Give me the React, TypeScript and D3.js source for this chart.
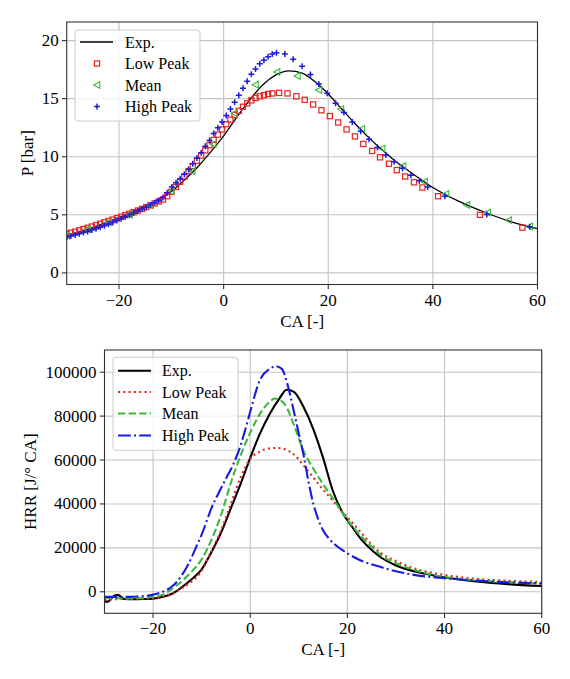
import React from 'react';
import * as d3 from 'd3';

// ---------- pressure trace (top) ----------
const pExpCA = [-30, -25, -20, -15, -10, -7.5, -5, -2.5, 0, 2.5, 5, 7.5, 10, 12.5, 15, 17.5, 20, 22.5, 25, 27.5, 30, 32.5, 35, 37.5, 40, 45, 50, 55, 60];
const pExp = [3.15, 3.9, 4.75, 5.75, 7.0, 8.0, 9.1, 10.4, 11.8, 13.4, 14.9, 16.2, 17.05, 17.4, 17.2, 16.45, 15.4, 14.15, 12.9, 11.75, 10.7, 9.75, 8.9, 8.1, 7.35, 6.15, 5.2, 4.4, 3.8];

const pLowCA = [-30.0, -29.2, -28.4, -27.6, -26.8, -26.0, -25.2, -24.4, -23.6, -22.8, -22.0, -21.2, -20.4, -19.6, -18.8, -18.0, -17.2, -16.4, -15.6, -14.8, -14.0, -13.2, -12.4, -11.6, -10.8, -10.0,
  -9.1, -8.3, -7.5, -6.7, -5.9, -5.1, -4.3, -3.5, -2.7, -1.9, -1.1, -0.3, 0.5, 1.3, 2.1, 2.9, 3.7, 4.5, 5.3, 6.1, 6.9, 7.7, 8.5, 9.3,
  10.6, 12.2, 13.9, 15.5, 17.1, 18.7, 20.3, 21.9, 23.5, 25.1, 26.7, 28.4, 29.9, 31.6, 33.1, 34.7, 36.4, 38.0, 41.0, 49.0, 57.1];
const pLow = [3.35, 3.45, 3.55, 3.66, 3.77, 3.88, 3.99, 4.11, 4.23, 4.35, 4.47, 4.59, 4.71, 4.84, 4.97, 5.1, 5.23, 5.37, 5.51, 5.66, 5.82, 5.98, 6.15, 6.32, 6.6, 6.98,
  7.4, 7.85, 8.3, 8.77, 9.2, 9.65, 10.1, 10.55, 11.0, 11.45, 11.9, 12.35, 12.8, 13.2, 13.6, 13.95, 14.3, 14.6, 14.85, 15.05, 15.2, 15.3, 15.4, 15.45,
  15.5, 15.45, 15.2, 14.9, 14.5, 14.0, 13.5, 12.95, 12.35, 11.75, 11.1, 10.5, 9.95, 9.4, 8.85, 8.3, 7.8, 7.35, 6.6, 5.0, 3.9];

const pMeanCA = [-30, -26, -22, -18, -14, -10, -6, -2, 2.1, 6.1, 10.2, 14.1, 18.2, 22.4, 26.4, 30.3, 34.3, 38.4, 42.5, 46.5, 50.5, 54.5, 58.5];
const pMean = [3.2, 3.75, 4.35, 5.0, 5.85, 7.0, 8.75, 11.1, 13.75, 16.2, 17.3, 16.95, 15.75, 14.1, 12.4, 10.7, 9.2, 7.85, 6.8, 5.84, 5.2, 4.54, 4.0];

const pHighCA = [-30.0, -29.2, -28.4, -27.6, -26.8, -26.0, -25.2, -24.4, -23.6, -22.8, -22.0, -21.2, -20.4, -19.6, -18.8, -18.0, -17.2, -16.4, -15.6, -14.8, -14.0, -13.2, -12.4, -11.6, -10.8,
  -9.9, -9.1, -8.3, -7.5, -6.7, -5.9, -5.1, -4.3, -3.5, -2.7, -1.9, -1.1, -0.3, 0.5, 1.3, 2.1, 2.9, 3.7, 4.5, 5.3, 6.1, 6.9, 7.7, 8.5, 9.3, 10.1,
  11.7, 13.3, 15.0, 16.6, 18.2, 19.8, 21.4, 23.0, 24.6, 26.2, 27.8, 29.4, 31.0, 32.6, 34.2, 35.8, 37.4, 39.0, 42.3, 50.3, 58.5];
const pHigh = [3.08, 3.17, 3.27, 3.37, 3.47, 3.57, 3.69, 3.81, 3.93, 4.05, 4.19, 4.34, 4.5, 4.66, 4.83, 5.0, 5.16, 5.32, 5.49, 5.66, 5.84, 6.03, 6.23, 6.5, 6.9,
  7.4, 7.75, 8.1, 8.5, 8.9, 9.4, 9.9, 10.35, 10.9, 11.4, 12.0, 12.5, 13.0, 13.55, 14.1, 14.7, 15.3, 15.9, 16.5, 17.1, 17.56, 18.0, 18.3, 18.6, 18.85, 18.95,
  18.85, 18.4, 17.8, 17.07, 16.27, 15.46, 14.6, 13.8, 13.0, 12.2, 11.5, 10.8, 10.15, 9.57, 9.0, 8.4, 7.93, 7.4, 6.6, 5.03, 3.97];

// ---------- heat release rate (bottom) ----------
const hExpCA = [-30, -29.3, -28.8, -28, -27.3, -26.7, -26, -24, -22, -20, -18, -16, -14, -12, -10, -8, -6, -4, -2, 0, 2, 4, 6, 7.5, 9, 11, 13, 15, 17, 19, 21, 23, 25, 27, 30, 34, 38, 42, 47, 53, 60];
const hExp = [-4500, -4500, -3500, -1800, -1400, -2200, -3300, -3400, -3300, -3100, -2300, -800, 2200, 5800, 10200, 18000, 27000, 38000, 49000, 61000, 72000, 81000, 88000, 92000, 91000, 84000, 74000, 61000, 46000, 36000, 29500, 23500, 19000, 15500, 12000, 9200, 7300, 5900, 4600, 3500, 2600];

const hLowCA = [-30, -26, -22, -20, -18, -16, -14, -12, -10, -8, -6, -4, -2, 0, 2, 4, 5.5, 7, 9, 11, 13, 15, 17, 19, 21, 23, 25, 27, 30, 34, 38, 42, 47, 53, 60];
const hLow = [-3800, -3200, -3100, -3000, -2300, -900, 1800, 4800, 9500, 18500, 28000, 40000, 52000, 60500, 63800, 65300, 65500, 65000, 62500, 57500, 52000, 46500, 41500, 36500, 31500, 26500, 21500, 17500, 14000, 10500, 8400, 7000, 5800, 5000, 4500];

const hMeanCA = [-30, -25, -22, -20, -18, -16, -14, -12, -10, -8, -6, -4, -2, 0, 2, 4, 5, 6, 7.5, 9, 11, 13, 15, 17, 19, 21, 23, 25, 27, 30, 34, 38, 42, 47, 53, 60];
const hMean = [-2800, -3000, -2800, -2300, -1300, 1500, 5000, 9300, 14800, 23500, 35000, 49500, 62000, 72500, 81000, 86500, 88000, 87500, 84000, 76000, 64000, 56000, 49000, 42500, 36000, 30000, 24800, 20500, 16500, 13000, 9800, 7500, 6200, 5200, 4400, 3800];

const hHighCA = [-30, -25, -22, -20, -18, -16, -15, -14, -13, -12, -11, -10, -9, -8, -6.5, -5, -3.5, -2, -1, 0, 2, 4, 5.2, 6.5, 7.6, 9, 10, 11, 12, 13, 14, 15, 16.5, 18, 20, 23, 26, 29, 34, 40, 47, 53, 60];
const hHigh = [-2300, -2300, -2000, -1300, 0, 2600, 4800, 7800, 11500, 16000, 21000, 26000, 32000, 38000, 45000, 51500, 58000, 66500, 74000, 82000, 96500, 101500, 102700, 101500, 95000, 82000, 72000, 62000, 50000, 40000, 33000, 28000, 23500, 20500, 17500, 14000, 11800, 9900, 7600, 6200, 5000, 4300, 3800];

const caTicks = [-20, 0, 20, 40, 60];
const pTicks = [0, 5, 10, 15, 20];
const hTicks = [0, 20000, 40000, 60000, 80000, 100000];
const seriesNames = ['Exp.', 'Low Peak', 'Mean', 'High Peak'];

const FONT = '"Liberation Serif", "Times New Roman", serif';
const RED = '#e8231e';
const GREEN = '#3cb93c';
const BLUE = '#1a1ae0';
const GRID = '#c4c4c4';

const fmt = (v: number) => (v < 0 ? '\u2212' + Math.abs(v) : String(v));
const zip = (xs: number[], ys: number[]) => xs.map((x, i) => [x, ys[i]] as [number, number]);

type Box = { left: number; right: number; top: number; bottom: number };

function Axes(props: {
  id: string;
  box: Box;
  x: d3.ScaleLinear<number, number>;
  y: d3.ScaleLinear<number, number>;
  yTicks: number[];
  yLabel: string;
  yLabelX: number;
  children: React.ReactNode;
  legend: React.ReactNode;
}) {
  const { id, box, x, y, yTicks, yLabel, yLabelX } = props;
  return (
    <g>
      <defs>
        <clipPath id={id}>
          <rect x={box.left} y={box.top} width={box.right - box.left} height={box.bottom - box.top} />
        </clipPath>
      </defs>
      {caTicks.map(t => (
        <line key={'gx' + t} x1={x(t)} x2={x(t)} y1={box.top} y2={box.bottom} stroke={GRID} strokeWidth={1.1} />
      ))}
      {yTicks.map(t => (
        <line key={'gy' + t} x1={box.left} x2={box.right} y1={y(t)} y2={y(t)} stroke={GRID} strokeWidth={1.1} />
      ))}
      <g clipPath={`url(#${id})`}>{props.children}</g>
      <rect x={box.left} y={box.top} width={box.right - box.left} height={box.bottom - box.top}
        fill="none" stroke="#333" strokeWidth={1.1} />
      {caTicks.map(t => (
        <g key={'tx' + t}>
          <line x1={x(t)} x2={x(t)} y1={box.bottom} y2={box.bottom + 4.7} stroke="#333" strokeWidth={1.1} />
          <text x={x(t)} y={box.bottom + 21} textAnchor="middle" fontSize={17} fontFamily={FONT}>{fmt(t)}</text>
        </g>
      ))}
      {yTicks.map(t => (
        <g key={'ty' + t}>
          <line x1={box.left - 4.7} x2={box.left} y1={y(t)} y2={y(t)} stroke="#333" strokeWidth={1.1} />
          <text x={box.left - 8} y={y(t) + 5.5} textAnchor="end" fontSize={17} fontFamily={FONT}>{fmt(t)}</text>
        </g>
      ))}
      <text x={(box.left + box.right) / 2} y={box.bottom + 42} textAnchor="middle" fontSize={17} fontFamily={FONT}>CA [-]</text>
      <text transform={`translate(${yLabelX},${(box.top + box.bottom) / 2}) rotate(-90)`} textAnchor="middle"
        fontSize={17} fontFamily={FONT}>{yLabel}</text>
      {props.legend}
    </g>
  );
}

const square = (cx: number, cy: number, k: string) => (
  <rect key={k} x={cx - 2.6} y={cy - 2.6} width={5.2} height={5.2} fill="none" stroke={RED} strokeWidth={1.2} />
);
const triLeft = (cx: number, cy: number, k: string) => (
  <path key={k} d={`M${cx - 3.4},${cy} L${cx + 2.8},${cy - 3.3} L${cx + 2.8},${cy + 3.3} Z`} fill="none" stroke={GREEN} strokeWidth={1.1} />
);
const plus = (cx: number, cy: number, k: string) => (
  <path key={k} d={`M${cx - 3},${cy} H${cx + 3} M${cx},${cy - 3} V${cy + 3}`} stroke={BLUE} strokeWidth={1.5} />
);

function Legend(props: { x: number; y: number; w: number; h: number; rows: number[]; handles: ((cy: number) => React.ReactNode)[]; textX: number }) {
  const { x, y, w, h, rows, handles, textX } = props;
  return (
    <g>
      <rect x={x} y={y} width={w} height={h} rx={3} fill="white" fillOpacity={0.8} stroke="#cccccc" strokeWidth={1} />
      {seriesNames.map((name, i) => (
        <g key={name}>
          {handles[i](rows[i])}
          <text x={textX} y={rows[i] + 5.5} fontSize={16} fontFamily={FONT}>{name}</text>
        </g>
      ))}
    </g>
  );
}

export default function App() {
  // top panel
  const boxP: Box = { left: 66.7, right: 537.5, top: 22, bottom: 284.5 };
  const xP = d3.scaleLinear().domain([-30, 60]).range([boxP.left, boxP.right]);
  const yP = d3.scaleLinear().domain([-1.0, 21.6]).range([boxP.bottom, boxP.top]);
  const lineP = d3.line<[number, number]>().x(d => xP(d[0])).y(d => yP(d[1])).curve(d3.curveMonotoneX);

  // bottom panel
  const boxH: Box = { left: 104.5, right: 541.7, top: 350, bottom: 613.3 };
  const xH = d3.scaleLinear().domain([-30, 60]).range([boxH.left, boxH.right]);
  const yH = d3.scaleLinear().domain([-9800, 110100]).range([boxH.bottom, boxH.top]);
  const lineH = d3.line<[number, number]>().x(d => xH(d[0])).y(d => yH(d[1])).curve(d3.curveMonotoneX);

  const dashes = [undefined, '2,3.3', '7.4,3.2', '12.8,3.2,2,3.2'];
  const colors = ['#000', RED, GREEN, BLUE];
  const hSeries = [zip(hExpCA, hExp), zip(hLowCA, hLow), zip(hMeanCA, hMean), zip(hHighCA, hHigh)];

  const legP = [42, 63.5, 85, 106.5];
  const legH = [370.7, 392, 413.5, 435.5];

  return (
    <svg width={570} height={679} style={{ position: 'absolute', left: 0, top: 0, background: 'white' }}>
      <Axes id="clipP" box={boxP} x={xP} y={yP} yTicks={pTicks} yLabel="P [bar]" yLabelX={33}
        legend={
          <Legend x={75} y={30} w={125} h={91} rows={legP} textX={125}
            handles={[
              cy => <line x1={80} x2={113} y1={cy} y2={cy} stroke="#000" strokeWidth={1.3} />,
              cy => square(97, cy, 'l1'),
              cy => triLeft(97, cy, 'l2'),
              cy => plus(97, cy, 'l3'),
            ]} />
        }>
        <path d={lineP(zip(pExpCA, pExp)) || ''} fill="none" stroke="#000" strokeWidth={1.3} />
        {zip(pLowCA, pLow).map((d, i) => square(xP(d[0]), yP(d[1]), 's' + i))}
        {zip(pMeanCA, pMean).map((d, i) => triLeft(xP(d[0]), yP(d[1]), 't' + i))}
        {zip(pHighCA, pHigh).map((d, i) => plus(xP(d[0]), yP(d[1]), 'p' + i))}
      </Axes>

      <Axes id="clipH" box={boxH} x={xH} y={yH} yTicks={hTicks} yLabel="HRR [J/° CA]" yLabelX={36}
        legend={
          <Legend x={113} y={357.3} w={125} h={93} rows={legH} textX={162}
            handles={colors.map((c, i) => (cy: number) => (
              <line x1={118} x2={151} y1={cy} y2={cy} stroke={c} strokeWidth={2.1} strokeDasharray={dashes[i]} />
            ))} />
        }>
        {hSeries.map((s, i) => (
          <path key={'h' + i} d={lineH(s) || ''} fill="none" stroke={colors[i]} strokeWidth={2.1} strokeDasharray={dashes[i]} />
        ))}
      </Axes>
    </svg>
  );
}
